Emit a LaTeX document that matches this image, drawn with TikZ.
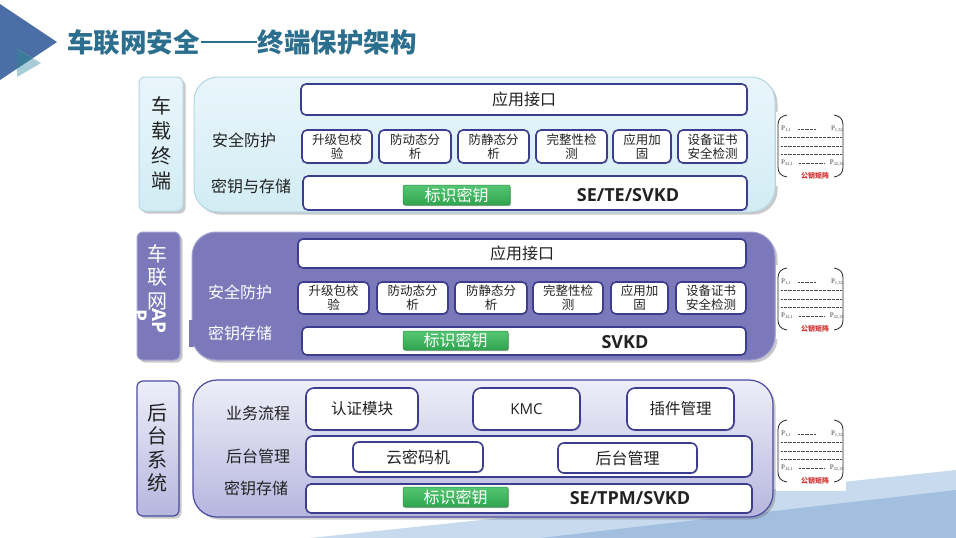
\documentclass[tikz,border=0pt]{standalone}
\usepackage{fontspec}
\setmainfont{Noto Sans CJK SC}
\newfontfamily\osans{Open Sans}
\newfontfamily\mserif{Liberation Serif}
\usetikzlibrary{shadows}
\definecolor{navy}{HTML}{3D3D8F}
\definecolor{titlec}{HTML}{2B6E8E}
\definecolor{triA}{HTML}{4A6EA5}
\definecolor{triB}{HTML}{A9CDD8}
\definecolor{triC}{HTML}{3C7A99}
\definecolor{bandlight}{HTML}{C8DBEE}
\definecolor{banddark}{HTML}{A3BFE0}
\definecolor{cyanT}{HTML}{E9F6FB}
\definecolor{cyanB}{HTML}{D2ECF4}
\definecolor{cyanE}{HTML}{B3D6E3}
\definecolor{purp}{HTML}{7B79B9}
\definecolor{purpE}{HTML}{A3A1D3}
\definecolor{lavT}{HTML}{EEEEF9}
\definecolor{lavB}{HTML}{B6B6DF}
\definecolor{lavE}{HTML}{4B4BA0}
\definecolor{greenT}{HTML}{55C672}
\definecolor{greenB}{HTML}{2FA54E}
\definecolor{greenE}{HTML}{2A8F45}
\definecolor{txt}{HTML}{222222}
\definecolor{redt}{HTML}{D03030}
\tikzset{
  shad/.style={drop shadow={shadow xshift=2.5pt, shadow yshift=-2.5pt, opacity=0.35, fill=black!60}},
  lshad/.style={drop shadow={shadow xshift=1.2pt, shadow yshift=-1.2pt, opacity=0.2, fill=black!60}},
  box/.style={anchor=north west, inner sep=0pt, outer sep=0pt},
  sec1/.style={box, shad, draw=cyanE, line width=1pt, top color=cyanT, bottom color=cyanB},
  sec2/.style={box, shad, draw=purpE, line width=1pt, fill=purp},
  sec3/.style={box, shad, draw=lavE, line width=1.2pt, top color=lavT, bottom color=lavB},
  ibox/.style={box, lshad, draw=navy, line width=1.6pt, fill=white, rounded corners=5pt, text=txt, align=center},
  sbox/.style={ibox, font=\fontsize{12.5}{14}\selectfont},
  gbtn/.style={box, draw=greenE, line width=0.5pt, top color=greenT, bottom color=greenB, rounded corners=2pt, text=white, font=\fontsize{16}{16}\selectfont, drop shadow={shadow xshift=1pt, shadow yshift=-1pt, opacity=0.3, fill=black}},
  lbl/.style={text=txt, font=\fontsize{16}{16}\selectfont},
  wlbl/.style={text=white, font=\fontsize{16}{16}\selectfont},
  bold/.style={text=txt, font=\osans\bfseries\fontsize{18}{18}\selectfont},
  ptxt/.style={inner sep=0pt, text=black!75, font=\mserif\fontsize{7}{7}\selectfont},
  dotl/.style={black!70, line width=0.7pt, dash pattern=on 0.6pt off 0.7pt},
  pkmat/.pic={
    \fill[white] (-2,-3) rectangle (68,71);
    \draw[black!85, line width=0.8pt] (9,0) .. controls (3,1) and (0,4) .. (0,10) -- (0,52) .. controls (0,58) and (3,61) .. (9,62);
    \draw[black!85, line width=0.8pt] (56,0) .. controls (62,1) and (65,4) .. (65,10) -- (65,52) .. controls (65,58) and (62,61) .. (56,62);
    \node[ptxt, anchor=west] (-a) at (3,14) {P\raisebox{-0.8pt}{\fontsize{4.5}{5}\selectfont 1,1}};
    \draw[dotl] (20,14) -- (38,14);
    \node[ptxt, anchor=east] (-b) at (65,14) {P\raisebox{-0.8pt}{\fontsize{4.5}{5}\selectfont 1,32}};
    \draw[dotl] (3,22) -- (63,22);
    \draw[dotl] (3,31) -- (63,31);
    \draw[dotl] (3,39) -- (63,39);
    \node[ptxt, anchor=west] (-c) at (3,48) {P\raisebox{-0.8pt}{\fontsize{4.5}{5}\selectfont 32,1}};
    \draw[dotl] (21,48) -- (46,48);
    \node[ptxt, anchor=east] (-d) at (66,48) {P\raisebox{-0.8pt}{\fontsize{4.5}{5}\selectfont 32,32}};
    \node[inner sep=0pt, text=redt, font=\bfseries\fontsize{7}{7}\selectfont] (-e) at (37,61) {公钥矩阵};
  }
}
\begin{document}
\begin{tikzpicture}[x=1pt,y=-1pt]
\useasboundingbox (0,0) rectangle (956,538);
\fill[white] (0,0) rectangle (956,538);
% background bands
\fill[bandlight] (310,538) -- (956,470) -- (956,538) -- cycle;
\fill[banddark] (540,538) -- (956,490) -- (956,538) -- cycle;
% corner triangles
\fill[triA] (0,4) -- (57,42) -- (0,80) -- cycle;
\fill[triB] (17,49) -- (41,63) -- (17,77) -- cycle;
\begin{scope}
  \clip (0,4) -- (57,42) -- (0,80) -- cycle;
  \fill[triC] (17,49) -- (41,63) -- (17,77) -- cycle;
\end{scope}
% title
\node[anchor=west, inner sep=0pt, text=titlec, font=\bfseries\fontsize{26.5}{26.5}\selectfont] (title) at (67,42) {车联网安全\hspace{1pt}\rule[0.33em]{56pt}{2.6pt}\hspace{1pt}终端保护架构};

% ===== Section 1 =====
\node[sec1, rounded corners=6pt, minimum width=44, minimum height=134] (s1l) at (139,77) {};
\node[text=txt, align=center, font=\fontsize{20}{25}\selectfont] (s1lt) at (161,143) {车\\载\\终\\端};
\node[sec1, rounded corners=24pt, minimum width=581, minimum height=135] (s1m) at (194,77) {};
\node[ibox, minimum width=446, minimum height=31, font=\fontsize{16}{16}\selectfont] (s1api) at (301,84) {应用接口};
\node[lbl] (s1a) at (244,140) {安全防护};
\node[lbl] (s1b) at (251,186) {密钥与存储};
\node[sbox, minimum width=70, minimum height=33] (s1b1) at (302,130) {升级包校\\验};
\node[sbox, minimum width=72, minimum height=33] (s1b2) at (379,130) {防动态分\\析};
\node[sbox, minimum width=71, minimum height=33] (s1b3) at (458,130) {防静态分\\析};
\node[sbox, minimum width=71, minimum height=33] (s1b4) at (536,130) {完整性检\\测};
\node[sbox, minimum width=58, minimum height=33] (s1b5) at (613,130) {应用加\\固};
\node[sbox, minimum width=69, minimum height=33] (s1b6) at (678,130) {设备证书\\安全检测};
\node[ibox, minimum width=444, minimum height=34] (s1st) at (303,176) {};
\node[gbtn, minimum width=107, minimum height=20] (s1g) at (403,185) {标识密钥};
\node[bold] (s1k) at (628,195) {SE/TE/SVKD};

% ===== Section 2 =====
\node[sec2, rounded corners=6pt, minimum width=43, minimum height=128] (s2l) at (137,232) {};
\node[text=white, align=center, font=\fontsize{20}{23.5}\selectfont] (s2lt) at (157,277) {车\\联\\网};
\node[rotate=-90, text=white, inner sep=0pt, font=\osans\bfseries\fontsize{19}{19}\selectfont] (s2ap) at (159,321) {AP};
\node[rotate=-90, text=white, inner sep=0pt, font=\osans\bfseries\fontsize{19}{19}\selectfont] (s2p) at (140,315) {P};
\node[sec2, rounded corners=24pt, minimum width=583, minimum height=128] (s2m) at (192,232) {};
\fill[purp] (189,320) rectangle (194,347);
\node[ibox, minimum width=448, minimum height=29, font=\fontsize{16}{16}\selectfont] (s2api) at (298,239) {应用接口};
\node[wlbl] (s2a) at (240,292) {安全防护};
\node[wlbl] (s2b) at (240,333) {密钥存储};
\node[sbox, minimum width=71, minimum height=32] (s2b1) at (298,282) {升级包校\\验};
\node[sbox, minimum width=71, minimum height=32] (s2b2) at (377,282) {防动态分\\析};
\node[sbox, minimum width=72, minimum height=32] (s2b3) at (455,282) {防静态分\\析};
\node[sbox, minimum width=70, minimum height=32] (s2b4) at (533,282) {完整性检\\测};
\node[sbox, minimum width=57, minimum height=32] (s2b5) at (611,282) {应用加\\固};
\node[sbox, minimum width=70, minimum height=32] (s2b6) at (676,282) {设备证书\\安全检测};
\node[ibox, minimum width=444, minimum height=28] (s2st) at (302,327) {};
\node[gbtn, minimum width=105, minimum height=19] (s2g) at (403,331) {标识密钥};
\node[bold] (s2k) at (625,342) {SVKD};

% ===== Section 3 =====
\node[sec3, rounded corners=6pt, minimum width=42, minimum height=135] (s3l) at (137,381) {};
\node[text=txt, align=center, font=\fontsize{20}{23.5}\selectfont] (s3lt) at (157,448) {后\\台\\系\\统};
\node[sec3, rounded corners=24pt, minimum width=580, minimum height=137] (s3m) at (193,380) {};
\node[lbl] (s3a) at (258,413) {业务流程};
\node[lbl] (s3b) at (258,456) {后台管理};
\node[lbl] (s3c) at (256,488) {密钥存储};
\node[ibox, rounded corners=8pt, minimum width=112, minimum height=42, font=\fontsize{15.5}{16}\selectfont] (s3r1) at (306,388) {认证模块};
\node[ibox, rounded corners=8pt, minimum width=107, minimum height=42, font=\osans\fontsize{15}{16}\selectfont] (s3r2) at (473,388) {KMC};
\node[ibox, rounded corners=8pt, minimum width=107, minimum height=42, font=\fontsize{15.5}{16}\selectfont] (s3r3) at (627,388) {插件管理};
\node[ibox, rounded corners=7pt, minimum width=446, minimum height=41] (s3row) at (306,436) {};
\node[ibox, rounded corners=6pt, minimum width=130, minimum height=30, font=\fontsize{16}{16}\selectfont] (s3y) at (353,442) {云密码机};
\node[ibox, rounded corners=6pt, minimum width=139, minimum height=30, font=\fontsize{16}{16}\selectfont] (s3h) at (558,443) {后台管理};
\node[ibox, minimum width=446, minimum height=29] (s3st) at (306,484) {};
\node[gbtn, minimum width=105, minimum height=20] (s3g) at (403,487) {标识密钥};
\node[bold] (s3k) at (630,498) {SE/TPM/SVKD};

% ===== public key matrices =====
\pic (m1) at (778,115) {pkmat};
\pic (m2) at (778,268) {pkmat};
\pic (m3) at (778,420) {pkmat};
\end{tikzpicture}
\end{document}
